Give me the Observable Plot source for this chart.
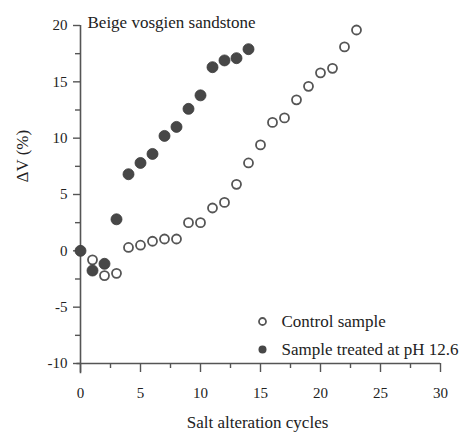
<!DOCTYPE html>
<html>
<head>
<meta charset="utf-8">
<script src="https://cdn.jsdelivr.net/npm/d3@7"></script>
<script src="https://cdn.jsdelivr.net/npm/@observablehq/plot@0.6"></script>
<style>
  body { margin: 0; background: #fff; }
  svg text { font-family: 'Liberation Serif', 'Times New Roman', serif; }
</style>
</head>
<body>
<div id="chart"></div>
<script>
const title = "Beige vosgien sandstone";
const xLabel = "Salt alteration cycles";
const yLabel = "ΔV (%)";
const seriesNames = ["Control sample", "Sample treated at pH 12.6"];

const controlCycles = [1,2,3,4,5,6,7,8,9,10,11,12,13,14,15,16,17,18,19,20,21,22,23];
const controlValues = [-0.8,-2.2,-2.0,0.3,0.5,0.85,1.05,1.05,2.5,2.5,3.8,4.3,5.9,7.8,9.4,11.4,11.8,13.4,14.6,15.8,16.2,18.1,19.6];

const treatedCycles = [0,1,2,3,4,5,6,7,8,9,10,11,12,13,14];
const treatedValues = [0,-1.75,-1.15,2.8,6.8,7.8,8.6,10.2,11.0,12.6,13.8,16.3,16.9,17.1,17.9];

const xMajor = [0,5,10,15,20,25,30];
const xMinor = [2.5,7.5,12.5,17.5,22.5,27.5];
const yMajor = [-10,-5,0,5,10,15,20];
const yMinor = [-7.5,-2.5,2.5,7.5,12.5,17.5];

const control = controlCycles.map((c, i) => ({cycle: c, dv: controlValues[i]}));
const treated = treatedCycles.map((c, i) => ({cycle: c, dv: treatedValues[i]}));

const axisColor = "#555";
const textColor = "#222";
const font = "'Liberation Serif', 'Times New Roman', serif";
const fmt = d => String(d);

const chart = Plot.plot({
  width: 464,
  height: 433,
  marginLeft: 80,
  marginRight: 24,
  marginTop: 25,
  marginBottom: 70,
  style: {fontFamily: font, color: textColor, background: "#fff"},
  x: {domain: [0, 30], axis: null},
  y: {domain: [-10, 20], axis: null},
  marks: [
    Plot.ruleX([0], {y1: -10.9, y2: 20, stroke: axisColor, strokeWidth: 1.6}),
    Plot.ruleY([-10], {x1: -0.3, x2: 30, stroke: axisColor, strokeWidth: 1.6}),
    Plot.axisY(yMajor, {tickSize: 7, tickPadding: 6, fontSize: 15, fontFamily: font, tickFormat: fmt, stroke: axisColor, strokeWidth: 1.4, fill: textColor, label: null}),
    Plot.axisY(yMinor, {tickSize: 5, text: null, stroke: axisColor, strokeWidth: 1.4, label: null}),
    Plot.axisX(xMajor, {tickSize: 9, tickPadding: 15, fontSize: 15, fontFamily: font, tickFormat: fmt, stroke: axisColor, strokeWidth: 1.4, fill: textColor, label: null}),
    Plot.axisX(xMinor, {tickSize: 5, text: null, stroke: axisColor, strokeWidth: 1.4, label: null}),
    Plot.dot(control, {x: "cycle", y: "dv", r: 4.5, stroke: "#555", strokeWidth: 1.8, fill: "#fff"}),
    Plot.dot(treated, {x: "cycle", y: "dv", r: 5.5, fill: "#474747", stroke: "#3a3a3a", strokeWidth: 0.8}),
    Plot.text([title], {frameAnchor: "top-left", dx: 7, dy: -3, textAnchor: "start", lineAnchor: "middle", fontSize: 17, fontFamily: font, fill: textColor}),
    Plot.text([xLabel], {frameAnchor: "bottom", dx: -3, dy: 59, lineAnchor: "middle", fontSize: 17, fontFamily: font, fill: textColor}),
    Plot.text([yLabel], {frameAnchor: "left", dx: -58, dy: -12, rotate: -90, lineAnchor: "middle", fontSize: 17, fontFamily: font, fill: textColor}),
    Plot.dot([seriesNames[0]], {frameAnchor: "bottom-left", dx: 182, dy: -42, r: 3.5, stroke: "#555", strokeWidth: 1.8, fill: "#fff"}),
    Plot.dot([seriesNames[1]], {frameAnchor: "bottom-left", dx: 182, dy: -14, r: 4, fill: "#474747"}),
    Plot.text([seriesNames[0]], {frameAnchor: "bottom-left", dx: 201, dy: -42, textAnchor: "start", lineAnchor: "middle", fontSize: 17, fontFamily: font, fill: textColor}),
    Plot.text([seriesNames[1]], {frameAnchor: "bottom-left", dx: 201, dy: -14, textAnchor: "start", lineAnchor: "middle", fontSize: 17, fontFamily: font, fill: textColor})
  ]
});
document.getElementById("chart").appendChild(chart);
</script>
</body>
</html>
